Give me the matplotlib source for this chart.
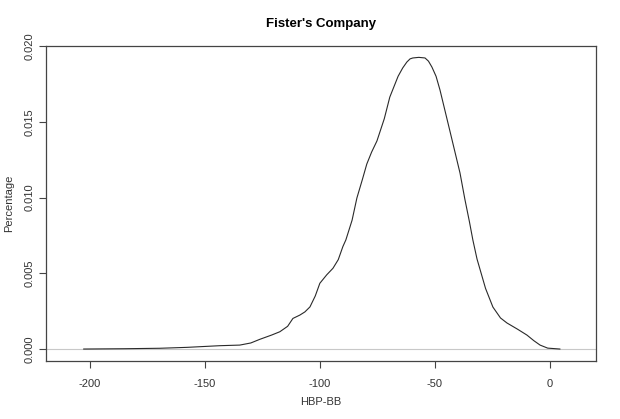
import matplotlib
matplotlib.use("Agg")
import matplotlib.pyplot as plt
from matplotlib.ticker import FuncFormatter

plt.rcParams['font.family'] = ['Liberation Sans', 'DejaVu Sans']

title = "Fister's Company"
xlabel = "HBP-BB"
ylabel = "Percentage"

x_vals = [-202.6, -185.0, -169.6, -157.8, -143.5, -134.8, -130.0, -126.1, -121.0, -117.4,
          -114.0, -111.7, -108.7, -106.5, -104.3, -102.0, -100.0, -97.0, -94.3, -92.0, -90.0, -88.7,
          -86.0, -83.9, -81.5, -79.6, -77.5, -75.2, -72.0, -69.6, -66.0, -64.0, -62.2, -60.8, -59.6, -57.0, -54.3,
          -52.8, -51.3, -49.5, -47.8, -43.5, -39.1, -37.0, -35.0, -33.5, -31.7, -28.0, -24.8, -21.5, -18.7,
          -14.0, -10.0, -7.0, -4.3, -1.0, 4.3]
y_vals = [0.0, 0.00002, 0.00005, 0.00011, 0.00022, 0.00026, 0.00040, 0.00064, 0.00092, 0.00114,
          0.00150, 0.00202, 0.00224, 0.00245, 0.00278, 0.00350, 0.00434, 0.00490, 0.00533, 0.00590, 0.00676, 0.0072,
          0.00850, 0.00997, 0.01120, 0.01221, 0.01300, 0.01373, 0.01520, 0.01663, 0.01800, 0.01855, 0.01894, 0.01915, 0.01921, 0.01925, 0.01921,
          0.01900, 0.01861, 0.01800, 0.01710, 0.01440, 0.01162, 0.00990, 0.00840, 0.00719, 0.00594, 0.00400, 0.00277, 0.00205, 0.00172,
          0.00130, 0.00092, 0.00055, 0.00026, 0.00006, 0.0]

xticks = [-200, -150, -100, -50, 0]
yticks = [0.000, 0.005, 0.010, 0.015, 0.020]

fig = plt.figure(figsize=(6.2, 4.19), dpi=100)
ax = fig.add_axes([46/620, 1-361/419, 550/620, 315/419])

ax.axhline(0, color='#c8c8c8', lw=0.8, zorder=1)
ax.plot(x_vals, y_vals, color='#2a2a2a', lw=0.8, zorder=2)

ax.set_xlim(-219, 20)
ax.set_ylim(-0.00079, 0.0200)

ax.set_xticks(xticks)
ax.set_yticks(yticks)
ax.xaxis.set_major_formatter(FuncFormatter(lambda v, p: f"{int(v)}"))
ax.yaxis.set_major_formatter(FuncFormatter(lambda v, p: f"{v:.3f}"))
ax.tick_params(axis='both', direction='out', length=5, width=0.8, color='#444444',
               labelsize=8, labelcolor='#333333')
ax.tick_params(axis='x', pad=8)
ax.tick_params(axis='y', pad=3)
for lbl in ax.get_yticklabels():
    lbl.set_rotation(90)
    lbl.set_va('center')
for s in ax.spines.values():
    s.set_color('#444444')
    s.set_linewidth(0.9)

ax.set_title(title, fontsize=9.5, fontweight='bold', pad=14)
ax.set_xlabel(xlabel, fontsize=8, color='#333333', labelpad=6)
ax.set_ylabel(ylabel, fontsize=8, color='#333333', labelpad=8)

fig.savefig("out.png", dpi=100)
